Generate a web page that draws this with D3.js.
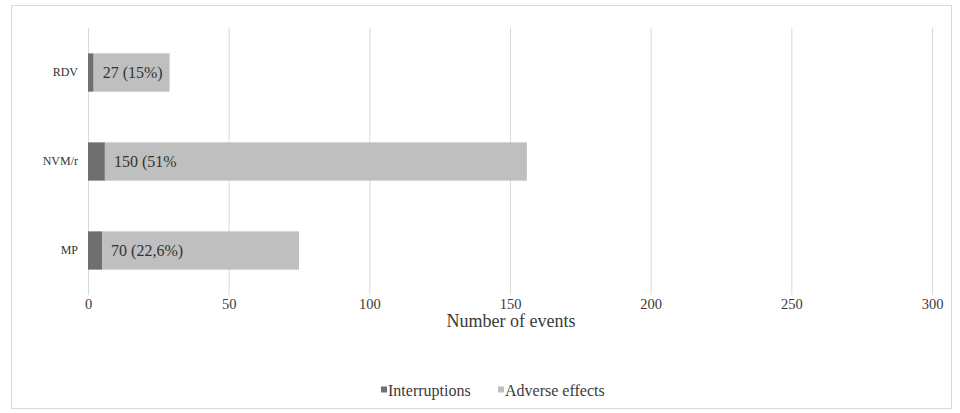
<!DOCTYPE html>
<html>
<head>
<meta charset="utf-8">
<script src="https://cdn.jsdelivr.net/npm/d3@7"></script>
<style>
  html, body { margin: 0; padding: 0; background: #fff; }
  svg { display: block; }
  text { font-family: "Liberation Serif", "Times New Roman", serif; fill: #3a3a3a; }
</style>
</head>
<body>
<svg id="chart" width="960" height="413"></svg>
<script>
// Events per regimen, split into interruptions and adverse effects
const categories = ["RDV", "NVM/r", "MP"];
const interruptions = [2, 6, 5];
const adverseEffects = [27, 150, 70];
const adverseLabels = ["27 (15%)", "150 (51%", "70 (22,6%)"];
const xTicks = [0, 50, 100, 150, 200, 250, 300];
const seriesNames = ["Interruptions", "Adverse effects"];
const seriesColors = ["#6f6f6f", "#bfbfbf"];

const svg = d3.select("#chart");

// outer chart frame
svg.append("rect")
  .attr("x", 11.5).attr("y", 5.5)
  .attr("width", 940).attr("height", 403)
  .attr("fill", "#fff").attr("stroke", "#d9d9d9");

const x = d3.scaleLinear().domain([0, 300]).range([88, 932]);
const y = d3.scaleBand().domain(categories).range([28, 295])
  .paddingInner(0.57).paddingOuter(0.285);

// vertical gridlines
svg.append("g").selectAll("line").data(xTicks).join("line")
  .attr("x1", d => x(d) + 0.5).attr("x2", d => x(d) + 0.5)
  .attr("y1", 28).attr("y2", 295)
  .attr("stroke", "#d9d9d9").attr("stroke-width", 1);

// x axis tick labels
const xAxis = d3.axisBottom(x).tickValues(xTicks).tickSize(0).tickPadding(0);
const gx = svg.append("g").attr("transform", "translate(0,299)").call(xAxis);
gx.select(".domain").remove();
gx.selectAll("text")
  .attr("dy", "0.71em")
  .style("font-family", "Liberation Serif, serif")
  .style("font-size", "14.5px")
  .style("fill", "#3a3a3a");

// category axis labels
const yAxis = d3.axisLeft(y).tickSize(0).tickPadding(0);
const gy = svg.append("g").attr("transform", "translate(78,0)").call(yAxis);
gy.select(".domain").remove();
gy.selectAll("text")
  .style("font-family", "Liberation Serif, serif")
  .style("font-size", "12px")
  .style("fill", "#333");

// stacked bars
const rows = categories.map((c, i) => ({
  cat: c, inter: interruptions[i], adv: adverseEffects[i], label: adverseLabels[i]
}));

const bars = svg.append("g");
bars.selectAll("rect.inter").data(rows).join("rect")
  .attr("class", "inter")
  .attr("x", x(0))
  .attr("y", d => y(d.cat))
  .attr("width", d => x(d.inter) - x(0))
  .attr("height", y.bandwidth())
  .attr("fill", seriesColors[0]);

bars.selectAll("rect.adv").data(rows).join("rect")
  .attr("class", "adv")
  .attr("x", d => x(d.inter))
  .attr("y", d => y(d.cat))
  .attr("width", d => x(d.inter + d.adv) - x(d.inter))
  .attr("height", y.bandwidth())
  .attr("fill", seriesColors[1]);

// value labels at the base of the adverse-effects segment
bars.selectAll("text.val").data(rows).join("text")
  .attr("class", "val")
  .attr("x", d => x(d.inter) + 9)
  .attr("y", d => y(d.cat) + y.bandwidth() / 2)
  .attr("dy", "0.35em")
  .style("font-size", "16px")
  .style("fill", "#333")
  .text(d => d.label);

// axis title
svg.append("text")
  .attr("x", 511).attr("y", 327)
  .attr("text-anchor", "middle")
  .style("font-size", "18px")
  .text("Number of events");

// legend
const legendItems = [
  { name: seriesNames[0], color: seriesColors[0], x: 381 },
  { name: seriesNames[1], color: seriesColors[1], x: 498 }
];
const lg = svg.append("g").selectAll("g").data(legendItems).join("g")
  .attr("transform", d => `translate(${d.x},390)`);
lg.append("rect")
  .attr("x", 0).attr("y", -3.5).attr("width", 6).attr("height", 6)
  .attr("fill", d => d.color);
lg.append("text")
  .attr("x", 7).attr("y", 0).attr("dy", "0.35em")
  .style("font-size", "16px")
  .text(d => d.name);
</script>
</body>
</html>
